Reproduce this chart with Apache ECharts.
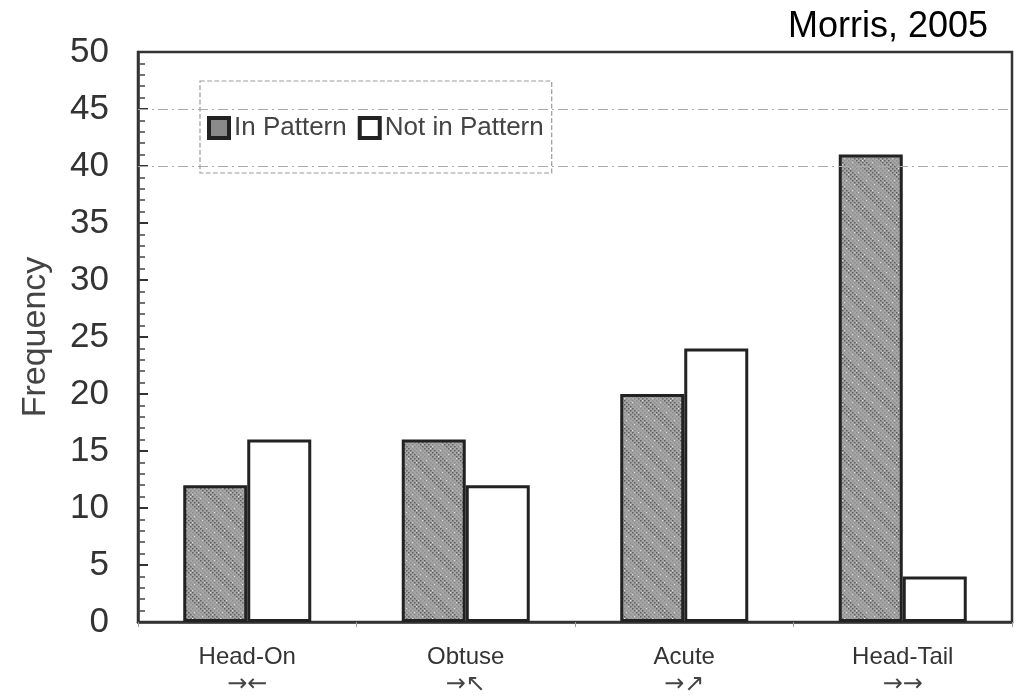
<!DOCTYPE html>
<html><head><meta charset="utf-8">
<script src="https://cdn.jsdelivr.net/npm/echarts@6/dist/echarts.min.js"></script>
<style>html,body{margin:0;padding:0;background:#fff}#c{width:1020px;height:700px}</style>
</head><body><div id="c"></div>
<script>
var categories = ['Head-On', 'Obtuse', 'Acute', 'Head-Tail'];
var arrowGlyphs = ['→←', '→↖', '→↗', '→→'];
var inPattern = [12, 16, 20, 41];
var notInPattern = [16, 12, 24, 4];
var refLines = [40, 45];

function makePattern() {
  var c = document.createElement('canvas');
  c.width = 48; c.height = 48;
  var g = c.getContext('2d');
  g.fillStyle = '#a6a6a6';
  g.fillRect(0, 0, 48, 48);
  for (var y = 0; y < 48; y += 2) {
    for (var x = 0; x < 48; x += 2) {
      var band = ((x - y) % 24 + 24) % 24;
      var dark = band < 10;
      var v = dark ? 95 : 140;
      if ((x + y) % 4 === 0) { g.fillStyle = 'rgb(' + v + ',' + v + ',' + v + ')'; g.fillRect(x, y, 1.5, 1.5); }
      else if ((x * 3 + y) % 7 === 0) { g.fillStyle = '#e4e4e4'; g.fillRect(x, y, 1, 1); }
    }
  }
  return c;
}
var pat = makePattern();

var chart = echarts.init(document.getElementById('c'), null, {renderer: 'canvas'});
chart.setOption({
  animation: false,
  backgroundColor: '#fff',
  title: {
    text: 'Morris, 2005', right: 32, top: 9, padding: 0,
    textStyle: {fontFamily: 'Liberation Sans', fontSize: 36, fontWeight: 'normal', color: '#000'}
  },
  legend: {
    left: 200, top: 81,
    padding: [34, 8, 32, 7],
    icon: 'rect',
    itemWidth: 20, itemHeight: 20, itemGap: 11,
    backgroundColor: '#fff', borderColor: '#999', borderWidth: 1.2, borderType: 'dashed',
    textStyle: {fontFamily: 'Liberation Sans', fontSize: 26, color: '#444'},
    data: [
      {name: 'In Pattern', itemStyle: {color: '#8a8a8a', borderColor: '#222', borderWidth: 4}},
      {name: 'Not in Pattern', itemStyle: {color: '#fff', borderColor: '#222', borderWidth: 4}}
    ]
  },
  grid: {left: 138, right: 8, top: 52, bottom: 78, show: true, borderColor: '#333', borderWidth: 2.5, outerBoundsMode: 'none', containLabel: false},
  xAxis: {
    type: 'category', data: categories,
    axisLine: {lineStyle: {color: '#333', width: 2.5}},
    axisTick: {show: true, length: 5, lineStyle: {color: '#999', width: 1}},
    axisLabel: {
      margin: 20,
      formatter: function (v, i) { return '{t|' + v + '}\n{a|' + arrowGlyphs[i] + '}'; },
      rich: {
        t: {fontFamily: 'Liberation Sans', fontSize: 24, color: '#333', lineHeight: 30},
        a: {fontFamily: 'DejaVu Sans', fontSize: 24, color: '#444', lineHeight: 26}
      }
    }
  },
  yAxis: {
    type: 'value', min: 0, max: 50, interval: 5,
    name: 'Frequency', nameLocation: 'middle', nameGap: 85, nameMoveOverlap: false,
    nameTextStyle: {fontFamily: 'Liberation Sans', fontSize: 34, color: '#444'},
    axisLine: {show: true, lineStyle: {color: '#333', width: 2.5}},
    axisTick: {show: true, inside: true, length: 10, lineStyle: {color: '#333', width: 2}},
    minorTick: {show: true, splitNumber: 5, length: 7, lineStyle: {color: '#444', width: 1.5}},
    axisLabel: {fontFamily: 'Liberation Sans', fontSize: 35, color: '#333', margin: 29},
    splitLine: {show: false}
  },
  series: [
    {
      name: 'In Pattern', type: 'bar', data: inPattern, barWidth: 64, barGap: '0%',
      itemStyle: {color: {image: pat, repeat: 'repeat'}, borderColor: '#222', borderWidth: 3},
      markLine: {
        silent: true, symbol: 'none', label: {show: false},
        lineStyle: {color: '#aaa', type: [10, 4, 2, 4], width: 1.2},
        data: refLines.map(function (v) { return {yAxis: v}; })
      },
      z: 3
    },
    {
      name: 'Not in Pattern', type: 'bar', data: notInPattern, barWidth: 64,
      itemStyle: {color: '#fff', borderColor: '#222', borderWidth: 3},
      z: 3
    }
  ]
});
</script>
</body></html>
